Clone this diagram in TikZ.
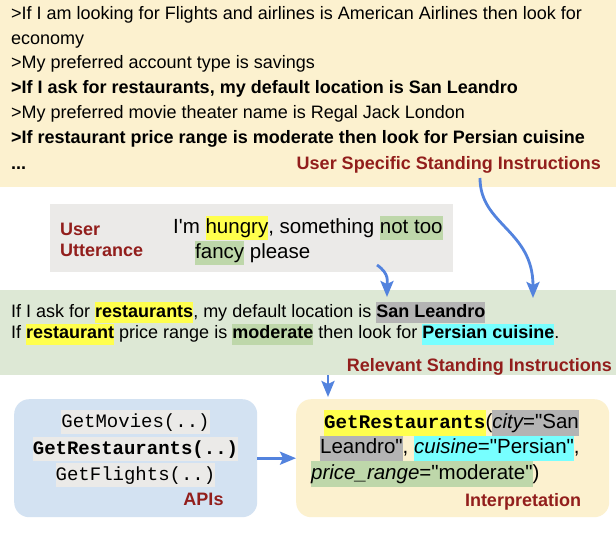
\documentclass[tikz,border=0pt]{standalone}
\usepackage{fontspec}
\setmainfont{Liberation Sans}[Ligatures=TeXOff]
\newfontfamily\monofam{Liberation Mono}[Ligatures=TeXOff]
\usetikzlibrary{arrows.meta}
\definecolor{ssiyellow}{RGB}{252,241,207}
\definecolor{uttgray}{RGB}{235,234,232}
\definecolor{rsigreen}{RGB}{221,232,213}
\definecolor{apiblue}{RGB}{211,226,242}
\definecolor{labelred}{RGB}{146,30,28}
\definecolor{hly}{RGB}{255,255,77}
\definecolor{hlg}{RGB}{190,215,170}
\definecolor{hlgray}{RGB}{180,180,180}
\definecolor{hlc}{RGB}{119,255,255}
\definecolor{hlm}{RGB}{235,234,232}
\definecolor{arrowblue}{RGB}{83,131,222}
\newcommand\hlt[2]{{\setlength{\fboxsep}{0pt}\colorbox{#1}{\strut#2}}}
\tikzset{
  panel/.style={draw=none, inner sep=0pt, anchor=north west},
  txt/.style={inner sep=0pt, anchor=base west, font=\fontsize{18}{21}\selectfont},
  bigtxt/.style={inner sep=0pt, anchor=base west, font=\fontsize{20.5}{24.5}\selectfont},
  monotxt/.style={inner sep=0pt, anchor=base, font=\monofam\fontsize{19}{24}\selectfont},
  lbl/.style={inner sep=0pt, font=\fontsize{18}{21}\selectfont\bfseries, text=labelred},
  conn/.style={draw=arrowblue, line width=2.8pt, -{Stealth[length=16pt,width=13pt,inset=3pt]}},
}
\begin{document}
\begin{tikzpicture}[x=1pt,y=-1pt]
\useasboundingbox[fill=white] (0,0) rectangle (616,552);

% panels
\node[panel, fill=ssiyellow, minimum width=616pt, minimum height=187pt] (ssi) at (0,0) {};
\node[panel, fill=uttgray, minimum width=403pt, minimum height=68pt] (utt) at (50,204) {};
\node[panel, fill=rsigreen, minimum width=616pt, minimum height=85pt] (rsi) at (0,290) {};
\node[panel, fill=apiblue, rounded corners=15pt, minimum width=243pt, minimum height=118pt] (apis) at (14,399) {};
\node[panel, fill=ssiyellow, rounded corners=15pt, minimum width=313pt, minimum height=118pt] (interp) at (296,399) {};

% user specific standing instructions
\node[txt] (s1) at (11,19) {>If I am looking for Flights and airlines is American Airlines then look for};
\node[txt] (s2) at (11,44) {economy};
\node[txt] (s3) at (11,68) {>My preferred account type is savings};
\node[txt, font=\fontsize{18}{21}\selectfont\bfseries] (s4) at (11,93) {>If I ask for restaurants, my default location is San Leandro};
\node[txt] (s5) at (11,118) {>My preferred movie theater name is Regal Jack London};
\node[txt, font=\fontsize{18}{21}\selectfont\bfseries] (s6) at (11,143) {>If restaurant price range is moderate then look for Persian cuisine};
\node[txt, font=\fontsize{18}{21}\selectfont\bfseries] (s7) at (11,169) {...};
\node[lbl, anchor=base east] (ssilbl) at (601,169) {User Specific Standing Instructions};

% user utterance
\node[lbl, anchor=base west] (ul1) at (60,235) {User};
\node[lbl, anchor=base west] (ul2) at (60,256) {Utterance};
\node[bigtxt] (u1) at (173,233) {I'm \hlt{hly}{hungry}, something \hlt{hlg}{not too}};
\node[bigtxt] (u2) at (195,258) {\hlt{hlg}{fancy} please};

% relevant standing instructions
\node[txt] (r1) at (11,317) {If I ask for \hlt{hly}{\bfseries restaurants}, my default location is \hlt{hlgray}{\bfseries San Leandro}};
\node[txt] (r2) at (11,338.5) {If \hlt{hly}{\bfseries restaurant} price range is \hlt{hlg}{\bfseries moderate} then look for \hlt{hlc}{\bfseries Persian cuisine}.};
\node[lbl, anchor=base east] (rsilbl) at (612,371) {Relevant Standing Instructions};

% APIs
\node[monotxt] (a1) at (135.5,427) {\hlt{hlm}{GetMovies(..)}};
\node[monotxt] (a2) at (135.5,454) {\hlt{hlm}{\bfseries GetRestaurants(..)}};
\node[monotxt] (a3) at (135.5,480) {\hlt{hlm}{GetFlights(..)}};
\node[lbl, anchor=base] (apilbl) at (203.5,505) {APIs};

% interpretation
\node[bigtxt, font=\fontsize{20.5}{25.5}\selectfont] (i1) at (324,428) {\hlt{hly}{\monofam\fontsize{19.2}{25.5}\selectfont\bfseries GetRestaurants}(\hlt{hlgray}{\itshape city\upshape="San}};
\node[bigtxt, font=\fontsize{20.5}{25.5}\selectfont] (i2) at (320,453.5) {\hlt{hlgray}{Leandro"}, \hlt{hlc}{\itshape cuisine\upshape="Persian"},};
\node[bigtxt, font=\fontsize{20.5}{25.5}\selectfont] (i3) at (311,479) {\hlt{hlg}{\itshape price\_range\upshape="moderate"})};
\node[lbl, anchor=base] (intlbl) at (523,506) {Interpretation};

% connectors
\coordinate (c1s) at (480,178);
\coordinate (c1e) at (533,298);
\draw[conn] (c1s) .. controls (480,225) and (533,230) .. (c1e);
\coordinate (c2s) at (377,265);
\coordinate (c2e) at (387,297);
\draw[conn] (c2s) .. controls (390,274) and (387,282) .. (c2e);
\draw[conn] ([xshift=328pt]rsi.south west) -- ([xshift=32pt,yshift=2pt]interp.north west);
\draw[conn] (apis.east) -- (interp.west);
\end{tikzpicture}
\end{document}
